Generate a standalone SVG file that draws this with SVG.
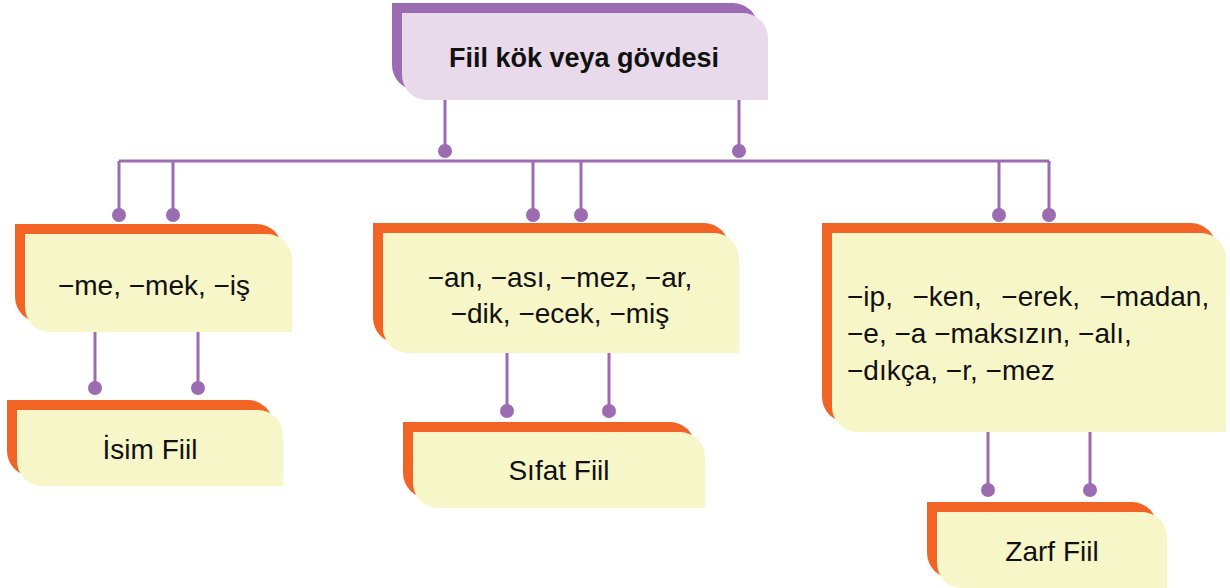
<svg xmlns="http://www.w3.org/2000/svg" width="1230" height="588" viewBox="0 0 1230 588">
<style>
.ln{stroke:#9B6CB1;stroke-width:3;fill:none}
.dot{fill:#9B6CB1}
.bp{fill:#9B6CB1}
.fp{fill:#E8DAEA}
.bo{fill:#F26426}
.fy{fill:#F7F6C9}
text{font-family:"Liberation Sans",Arial,sans-serif;fill:#111;font-size:28px}
.c{text-anchor:middle}
.b{font-weight:bold;font-size:27px}
</style>
<rect width="1230" height="588" fill="#fff"/>
<g id="connectors">
<path class="ln" d="M445 100V151M739 100V151M119 161H1049M119 161V215M173 161V215M533 161V215M581 161V215M999 161V215M1049 161V215M95 332V388M198 332V388M507 353V411M609 353V411M988 432V490M1090 432V490"/>
<g class="dot">
<circle cx="445" cy="151" r="7"/><circle cx="739" cy="151" r="7"/>
<circle cx="119" cy="215" r="7"/><circle cx="173" cy="215" r="7"/>
<circle cx="533" cy="215" r="7"/><circle cx="581" cy="215" r="7"/>
<circle cx="999" cy="215" r="7"/><circle cx="1049" cy="215" r="7"/>
<circle cx="95" cy="388" r="7"/><circle cx="198" cy="388" r="7"/>
<circle cx="507" cy="411" r="7"/><circle cx="609" cy="411" r="7"/>
<circle cx="988" cy="490" r="7"/><circle cx="1090" cy="490" r="7"/>
</g>
</g>
<g id="root">
<path class="bp" d="M392 3H733A25 25 0 0 1 758 28V90H417A25 25 0 0 1 392 65Z"/>
<path class="fp" d="M402 13H743A25 25 0 0 1 768 38V100H427A25 25 0 0 1 402 75Z"/>
<text class="c b" x="584" y="67">Fiil kök veya gövdesi</text>
</g>
<g id="isim-ek">
<path class="bo" d="M15 224H257A25 25 0 0 1 282 249V322H40A25 25 0 0 1 15 297Z"/>
<path class="fy" d="M25 234H267A25 25 0 0 1 292 259V332H50A25 25 0 0 1 25 307Z"/>
<text class="c" x="154" y="295">−me, −mek, −iş</text>
</g>
<g id="isim-fiil">
<path class="bo" d="M7 400H248A25 25 0 0 1 273 425V476H32A25 25 0 0 1 7 451Z"/>
<path class="fy" d="M17 410H258A25 25 0 0 1 283 435V486H42A25 25 0 0 1 17 461Z"/>
<text class="c" x="150" y="459">İsim Fiil</text>
</g>
<g id="sifat-ek">
<path class="bo" d="M373 223H704A25 25 0 0 1 729 248V343H398A25 25 0 0 1 373 318Z"/>
<path class="fy" d="M383 233H714A25 25 0 0 1 739 258V353H408A25 25 0 0 1 383 328Z"/>
<text class="c" x="560" y="287">−an, −ası, −mez, −ar,</text>
<text class="c" x="560" y="323">−dik, −ecek, −miş</text>
</g>
<g id="sifat-fiil">
<path class="bo" d="M403 422H670A25 25 0 0 1 695 447V498H428A25 25 0 0 1 403 473Z"/>
<path class="fy" d="M413 432H680A25 25 0 0 1 705 457V508H438A25 25 0 0 1 413 483Z"/>
<text class="c" x="559" y="480">Sıfat Fiil</text>
</g>
<g id="zarf-ek">
<path class="bo" d="M822 223H1191A25 25 0 0 1 1216 248V422H847A25 25 0 0 1 822 397Z"/>
<path class="fy" d="M832 233H1201A25 25 0 0 1 1226 258V432H857A25 25 0 0 1 832 407Z"/>
<text x="847" y="306" xml:space="preserve" word-spacing="2">−ip,  −ken,  −erek,  −madan,</text>
<text x="847" y="343">−e, −a −maksızın, −alı,</text>
<text x="847" y="380">−dıkça, −r, −mez</text>
</g>
<g id="zarf-fiil">
<path class="bo" d="M927 502H1132A25 25 0 0 1 1157 527V578H952A25 25 0 0 1 927 553Z"/>
<path class="fy" d="M937 512H1142A25 25 0 0 1 1167 537V588H962A25 25 0 0 1 937 563Z"/>
<text class="c" x="1052" y="561">Zarf Fiil</text>
</g>
</svg>
